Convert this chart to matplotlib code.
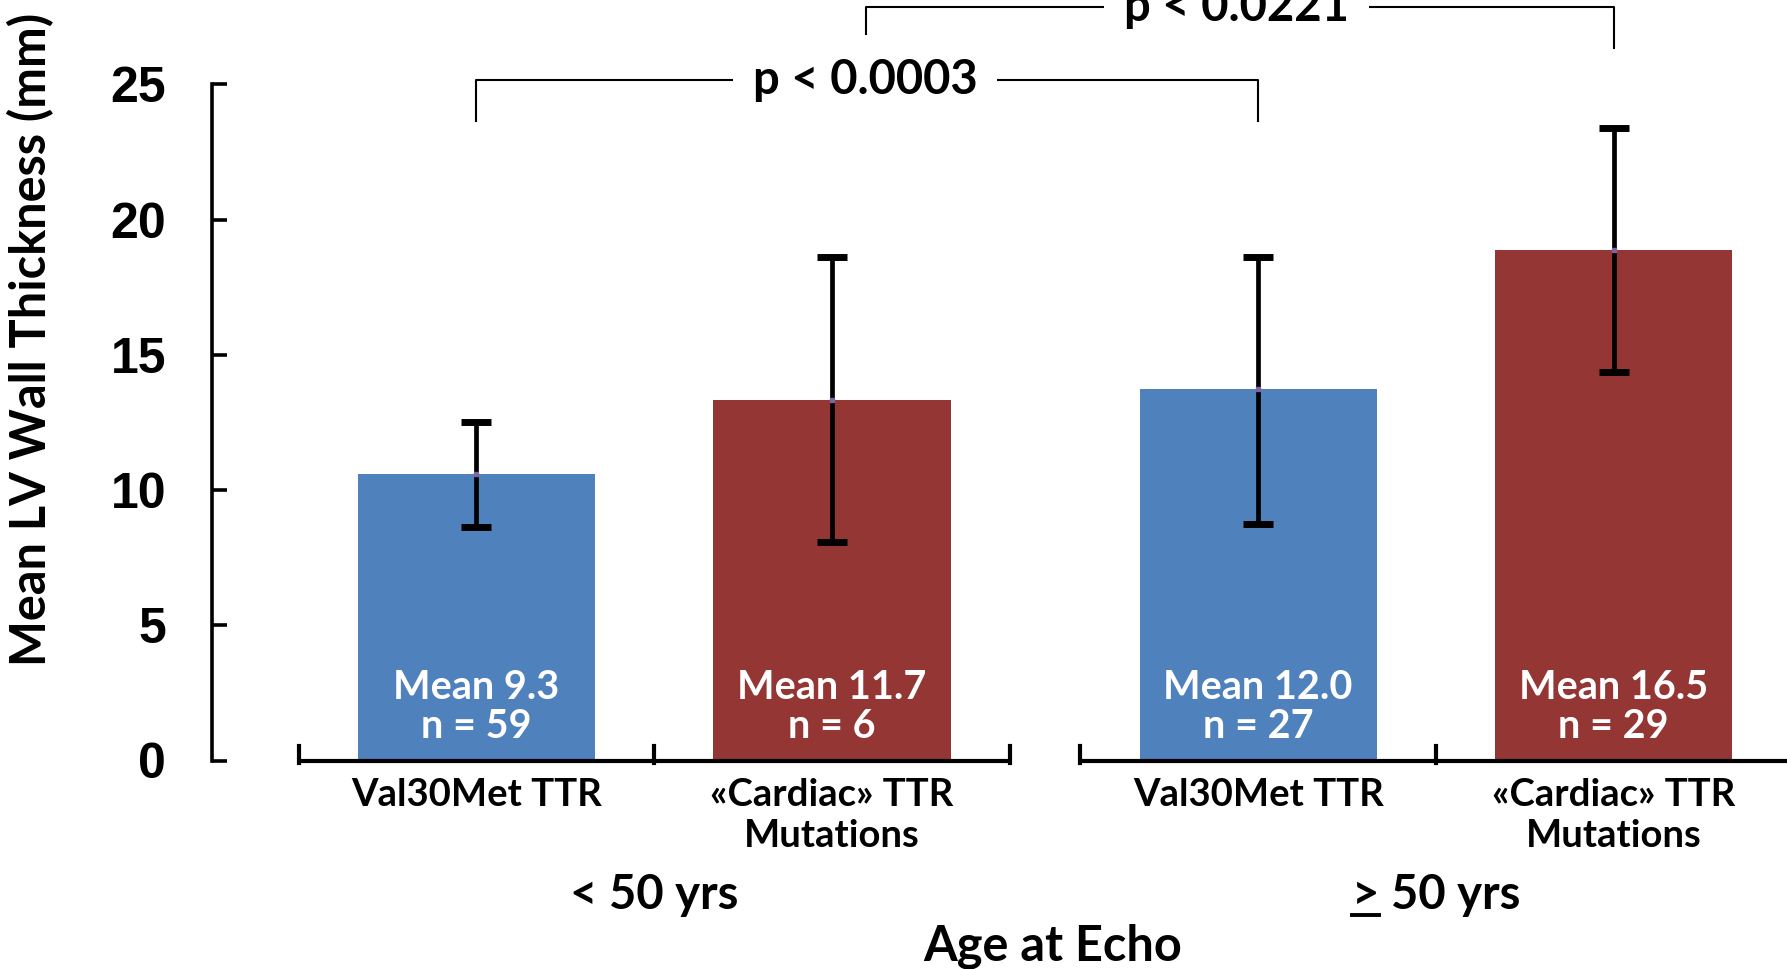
import matplotlib
matplotlib.use("Agg")
import matplotlib.pyplot as plt
from matplotlib.lines import Line2D
import numpy as np

# ---- data ----
group_labels = ["< 50 yrs", "> 50 yrs"]
categories = ["Val30Met TTR", "«Cardiac» TTR\nMutations", "Val30Met TTR", "«Cardiac» TTR\nMutations"]
bar_values = [10.58, 13.33, 13.72, 18.87]
err_low = [8.64, 8.07, 8.73, 14.37]
err_high = [12.53, 18.63, 18.63, 23.38]
mean_labels = ["Mean 9.3", "Mean 11.7", "Mean 12.0", "Mean 16.5"]
n_labels = ["n = 59", "n = 6", "n = 27", "n = 29"]
bar_colors = ["#4F81BD", "#943634", "#4F81BD", "#943634"]
p_labels = ["p < 0.0003", "p < 0.0221"]
y_ticks = [0, 5, 10, 15, 20, 25]
y_label = "Mean LV Wall Thickness (mm)"
x_label = "Age at Echo"

FONT = "Lato"
TICKFONT = "Liberation Sans"

W, H = 1787, 969
fig = plt.figure(figsize=(W / 100, H / 100), dpi=100)
ax_left_px, y0_px, y25_px = 212, 760.5, 84.3
ax = fig.add_axes([ax_left_px / W, 1 - y0_px / H, 1 - ax_left_px / W, (y0_px - y25_px) / H])

gap = 62 / 312.0
g2 = 2 + gap
centers = [0.5, 1.5, g2 + 0.5, g2 + 1.5]
ax.set_xlim(-0.2436, 4.186)
ax.set_ylim(0, 25)

ax.bar(centers, bar_values, width=0.667, color=bar_colors, zorder=2)
vals = np.array(bar_values)
yerr = [vals - np.array(err_low), np.array(err_high) - vals]
ax.errorbar(centers, bar_values, yerr=yerr, fmt="none", ecolor="black",
            elinewidth=3.4, capsize=11, capthick=5, zorder=3)
ax.plot(centers, bar_values, "s", ms=3, color="#8064A2", zorder=4)

# y axis
for s in ["top", "right", "bottom"]:
    ax.spines[s].set_visible(False)
ax.spines["left"].set_linewidth(2.6)
ax.spines["left"].set_bounds(0, 25)
ax.set_xticks([])
ax.set_yticks(y_ticks)
ax.set_yticklabels([str(t) for t in y_ticks], fontfamily=TICKFONT, fontweight="bold", fontsize=36)
ax.tick_params(axis="y", direction="in", length=11, width=2.6, pad=33)

# group axes
for start in [0, g2]:
    ax.plot([start, start + 2], [0, 0], color="black", lw=3, clip_on=False, zorder=5,
            solid_capstyle="butt")
    for b in [start, start + 1, start + 2]:
        ax.plot([b, b], [-0.1, 0.55], color="black", lw=3, clip_on=False, zorder=5)

# labels in bars
for c, m, n in zip(centers, mean_labels, n_labels):
    ax.text(c, 2.70, m, ha="center", va="center", color="white", fontfamily=FONT,
            fontweight="bold", fontsize=28.5, zorder=6)
    ax.text(c, 1.26, n, ha="center", va="center", color="white", fontfamily=FONT,
            fontweight="bold", fontsize=28.5, zorder=6)

# category labels
for c, lab in zip(centers, categories):
    for i, line in enumerate(lab.split("\n")):
        ax.text(c, -1.26 - 1.52 * i, line, ha="center", va="center", fontfamily=FONT,
                fontweight="bold", fontsize=27.5, clip_on=False)

# group labels
gtexts = []
for gx, gl in zip([1.0, g2 + 1.0], group_labels):
    t = ax.text(gx, -4.97, gl, ha="center", va="center", fontfamily=FONT,
                fontweight="bold", fontsize=34, clip_on=False)
    gtexts.append(t)

ax.text(2.12, -6.85, x_label, ha="center", va="center", fontfamily=FONT,
        fontweight="bold", fontsize=35, clip_on=False)

fig.text(31 / W, 1 - 339 / H, y_label, rotation=90, ha="center", va="center",
         fontfamily=FONT, fontweight="bold", fontsize=35)

# significance brackets
brackets = [
    (centers[0], centers[2], 25.17, 23.65, 23.65, 1.593),
    (1.596, centers[3], 27.87, 26.86, 26.35, 2.638),
]
for (x1, x2, yt, yl1, yl2, tx), pl in zip(brackets, p_labels):
    ax.plot([x1, x1, x2, x2], [yl1, yt, yt, yl2], color="black", lw=1.5, clip_on=False, zorder=2)
    ax.text(tx, yt, pl, ha="center", va="center", fontfamily=FONT, fontweight="bold",
            fontsize=34, clip_on=False, zorder=4,
            bbox=dict(boxstyle="square,pad=0.42", fc="white", ec="none"))

# underline the ">" of the second group label
fig.canvas.draw()
r = fig.canvas.get_renderer()
t = gtexts[1]
bb = t.get_window_extent(r)
tmp = ax.text(0, 0, ">", fontfamily=FONT, fontweight="bold", fontsize=34)
wb = tmp.get_window_extent(r)
tmp.remove()
yline = bb.y0 + 2
fig.add_artist(Line2D([bb.x0 / W, (bb.x0 + wb.width) / W], [yline / H, yline / H],
                      color="black", lw=2.8))

fig.savefig("out.png", dpi=100)
